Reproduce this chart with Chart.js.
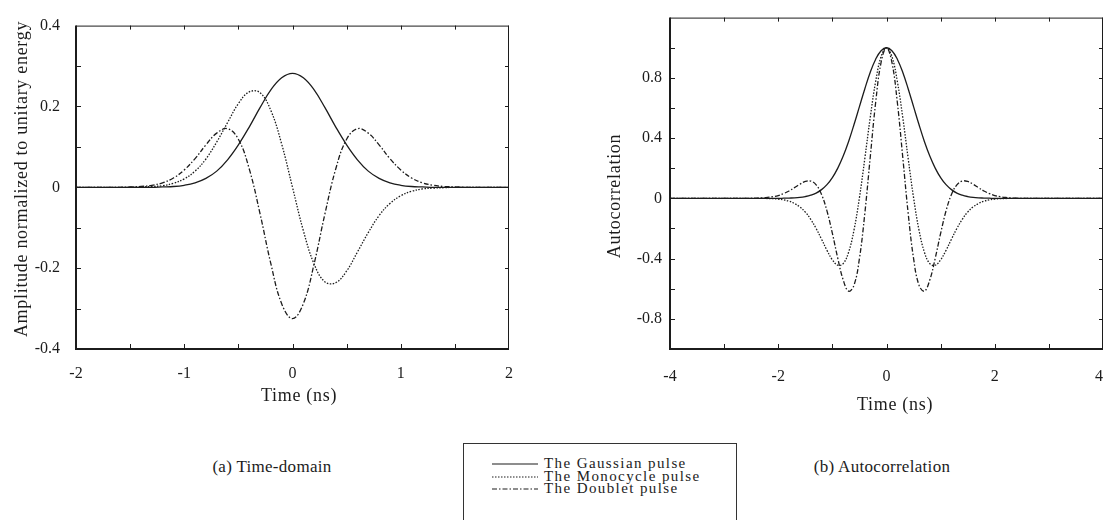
<!DOCTYPE html>
<html lang="en">
<head>
<meta charset="utf-8">
<title>Gaussian, monocycle and doublet pulses</title>
<script src="https://cdn.jsdelivr.net/npm/chart.js@4.4.1/dist/chart.umd.min.js"></script>
<style>
	html, body { margin: 0; padding: 0; background: #fff; overflow: hidden; }
	body { width: 1104px; height: 520px; position: relative; font-family: 'Liberation Serif', 'Times New Roman', serif; color: #1c1c1c; }
	#c1 { position: absolute; left: 0; top: 0; }
	#c2 { position: absolute; left: 545px; top: 0; }
	.cap { position: absolute; top: 466px; font-size: 17px; line-height: 1; white-space: nowrap; letter-spacing: 0.3px; transform: translate(-50%, -50%); }
	.legend { position: absolute; left: 463px; top: 443px; width: 272px; height: 100px; border: 1.5px solid #333; }
	.legend .row { position: absolute; left: 0; width: 100%; height: 14px; }
	.legend svg { position: absolute; left: 28px; top: 0; }
	.legend span { position: absolute; left: 80px; top: -1px; font-size: 15px; line-height: 15px; white-space: nowrap; letter-spacing: 1.4px; }
</style>
</head>
<body>
	<canvas id="c1" width="540" height="430"></canvas>
	<canvas id="c2" width="590" height="430"></canvas>
	<div class="cap" style="left: 272px;">(a) Time-domain</div>
	<div class="cap" style="left: 882px;">(b) Autocorrelation</div>
	<div class="legend" id="legend"></div>

<script>
// series names and line styles
var names = ['The Gaussian pulse', 'The Monocycle pulse', 'The Doublet pulse'];
var dashes = [[], [1.5, 1.5], [5, 2, 1.5, 2]];
var ink = '#1c1c1c';
var serif = "'Liberation Serif', 'Times New Roman', serif";

// (a) time-domain, t in ns
var tA = [-2.0, -1.9, -1.8, -1.7, -1.6, -1.5, -1.4, -1.3, -1.2, -1.1, -1.0, -0.9, -0.8, -0.7, -0.6, -0.5, -0.4, -0.3, -0.2, -0.1,
	0, 0.1, 0.2, 0.3, 0.4, 0.5, 0.6, 0.7, 0.8, 0.9, 1.0, 1.1, 1.2, 1.3, 1.4, 1.5, 1.6, 1.7, 1.8, 1.9, 2.0];
var gaussA = [0, 0, 0, 0, 0, 0, 0, 0, 0.001, 0.002, 0.005, 0.011, 0.022, 0.040, 0.068, 0.105, 0.149, 0.197, 0.241, 0.271,
	0.282, 0.271, 0.241, 0.197, 0.149, 0.105, 0.068, 0.040, 0.022, 0.011, 0.005, 0.002, 0.001, 0, 0, 0, 0, 0, 0, 0, 0];
var monoA = [0, 0, 0, 0, 0, 0, 0.001, 0.002, 0.004, 0.010, 0.021, 0.040, 0.070, 0.112, 0.160, 0.207, 0.236, 0.234, 0.190, 0.107,
	0, -0.107, -0.190, -0.234, -0.236, -0.207, -0.160, -0.112, -0.070, -0.040, -0.021, -0.010, -0.004, -0.002, -0.001, 0, 0, 0, 0, 0, 0];
var doubA = [0, 0, 0, 0, 0, 0.001, 0.002, 0.005, 0.011, 0.023, 0.043, 0.071, 0.105, 0.134, 0.145, 0.119, 0.046, -0.065, -0.189, -0.288,
	-0.325, -0.288, -0.189, -0.065, 0.046, 0.119, 0.145, 0.134, 0.105, 0.071, 0.043, 0.023, 0.011, 0.005, 0.002, 0.001, 0, 0, 0, 0, 0];
var xTicksA = [-2, -1, 0, 1, 2];
var xLabelsA = ['-2', '-1', '0', '1', '2'];
var yTicksA = [-0.4, -0.2, 0, 0.2, 0.4];
var yLabelsA = ['-0.4', '-0.2', '0', '0.2', '0.4'];
var xMarksA = [-1.5, -1, -0.5, 0, 0.5, 1, 1.5];
var yMarksA = [-0.3, -0.2, -0.1, 0, 0.1, 0.2, 0.3];

// (b) autocorrelation, lag in ns
var tB = [-4, -3, -2.5, -2.4, -2.3, -2.2, -2.1, -2.0, -1.9, -1.8, -1.7, -1.6, -1.5, -1.4, -1.3, -1.2, -1.1, -1.0, -0.9, -0.8, -0.7, -0.6, -0.5, -0.4, -0.3, -0.2, -0.1,
	0, 0.1, 0.2, 0.3, 0.4, 0.5, 0.6, 0.7, 0.8, 0.9, 1.0, 1.1, 1.2, 1.3, 1.4, 1.5, 1.6, 1.7, 1.8, 1.9, 2.0, 2.1, 2.2, 2.3, 2.4, 2.5, 3, 4];
var gaussB = [0, 0, 0, 0, 0, 0, 0, 0, 0.001, 0.002, 0.003, 0.006, 0.012, 0.021, 0.035, 0.058, 0.091, 0.138, 0.201, 0.281, 0.378, 0.490, 0.609, 0.728, 0.837, 0.924, 0.980,
	1, 0.980, 0.924, 0.837, 0.728, 0.609, 0.490, 0.378, 0.281, 0.201, 0.138, 0.091, 0.058, 0.035, 0.021, 0.012, 0.006, 0.003, 0.002, 0.001, 0, 0, 0, 0, 0, 0, 0, 0];
var monoB = [0, 0, 0, 0, 0, -0.001, -0.002, -0.005, -0.010, -0.019, -0.034, -0.057, -0.091, -0.139, -0.200, -0.271, -0.345, -0.408, -0.444, -0.433, -0.357, -0.210, 0.005, 0.266, 0.538, 0.777, 0.941,
	1, 0.941, 0.777, 0.538, 0.266, 0.005, -0.210, -0.357, -0.433, -0.444, -0.408, -0.345, -0.271, -0.200, -0.139, -0.091, -0.057, -0.034, -0.019, -0.010, -0.005, -0.002, -0.001, 0, 0, 0, 0, 0];
var doubB = [0, 0, 0, 0.001, 0.003, 0.006, 0.011, 0.019, 0.032, 0.049, 0.071, 0.094, 0.112, 0.115, 0.090, 0.026, -0.083, -0.232, -0.398, -0.542, -0.616, -0.576, -0.399, -0.098, 0.275, 0.638, 0.903,
	1, 0.903, 0.638, 0.275, -0.098, -0.399, -0.576, -0.616, -0.542, -0.398, -0.232, -0.083, 0.026, 0.090, 0.115, 0.112, 0.094, 0.071, 0.049, 0.032, 0.019, 0.011, 0.006, 0.003, 0.001, 0, 0, 0];
var xTicksB = [-4, -2, 0, 2, 4];
var xLabelsB = ['-4', '-2', '0', '2', '4'];
var yTicksB = [-0.8, -0.4, 0, 0.4, 0.8];
var yLabelsB = ['-0.8', '-0.4', '0', '0.4', '0.8'];
var xMarksB = [-3, -2, -1, 0, 1, 2, 3];
var yMarksB = [-0.8, -0.6, -0.4, -0.2, 0, 0.2, 0.4, 0.6, 0.8, 1.0];
</script>

<script>
Chart.defaults.font.family = serif;
Chart.defaults.color = ink;

// box round the plot with inward tick marks on all four sides
var frame = {
	id: 'frame',
	afterDatasetsDraw: function(chart, args, opts) {
		var ctx = chart.ctx, a = chart.chartArea;
		var x = chart.scales.x, y = chart.scales.y;
		ctx.save();
		ctx.strokeStyle = ink;
		ctx.lineWidth = 1;
		ctx.beginPath();
		ctx.moveTo(a.left, a.top + 0.5); ctx.lineTo(a.right, a.top + 0.5);
		ctx.moveTo(a.right - 0.5, a.top); ctx.lineTo(a.right - 0.5, a.bottom);
		opts.xMarks.forEach(function(v) {
			var p = Math.round(x.getPixelForValue(v)) + 0.5;
			ctx.moveTo(p, a.bottom); ctx.lineTo(p, a.bottom - 5);
			ctx.moveTo(p, a.top); ctx.lineTo(p, a.top + 4);
		});
		opts.yMarks.forEach(function(v) {
			var p = Math.round(y.getPixelForValue(v)) + 0.5;
			ctx.moveTo(a.left, p); ctx.lineTo(a.left + 5, p);
			ctx.moveTo(a.right, p); ctx.lineTo(a.right - 4, p);
		});
		ctx.stroke();
		ctx.lineWidth = 2;
		ctx.beginPath();
		ctx.moveTo(a.left, a.top); ctx.lineTo(a.left, a.bottom); ctx.lineTo(a.right, a.bottom);
		ctx.stroke();

		// axis titles, placed where the reference has them
		ctx.fillStyle = ink;
		ctx.font = '18px ' + serif;
		ctx.letterSpacing = '0.7px';
		ctx.textAlign = 'center';
		ctx.textBaseline = 'middle';
		ctx.fillText(opts.xTitle, opts.xTitleAt[0], opts.xTitleAt[1]);
		ctx.translate(opts.yTitleAt[0], opts.yTitleAt[1]);
		ctx.rotate(-Math.PI / 2);
		ctx.fillText(opts.yTitle, 0, 0);
		ctx.restore();
	}
};

function makechart(id, o)
{
	var datasets = o.series.map(function(s, i) {
		return {
			label: names[i],
			data: o.t.map(function(t, k) { return {x: t, y: s[k]}; }),
			borderColor: ink,
			borderWidth: 1.3,
			borderDash: dashes[i],
			pointRadius: 0,
			tension: 0.4,
			fill: false
		};
	});
	return new Chart(document.getElementById(id), {
		type: 'line',
		data: { datasets: datasets },
		plugins: [frame],
		options: {
			responsive: false,
			animation: false,
			events: [],
			layout: { padding: o.pad },
			plugins: {
				legend: { display: false },
				tooltip: { enabled: false },
				frame: { xMarks: o.xMarks, yMarks: o.yMarks,
					xTitle: 'Time (ns)', xTitleAt: o.xTitleAt, yTitle: o.yTitle, yTitleAt: o.yTitleAt }
			},
			scales: {
				x: {
					type: 'linear', min: o.xMin, max: o.xMax,
					afterBuildTicks: function(s) { s.ticks = o.xTicks.map(function(v) { return {value: v}; }); },
					afterFit: function(s) { s.height = o.xH; },
					grid: { display: false, drawTicks: false },
					border: { display: false },
					ticks: { padding: o.xPad, maxRotation: 0, autoSkip: false, color: ink, font: { family: serif, size: 16 },
						callback: function(v, i) { return o.xLabels[i] + (i == o.xLabels.length - 1 ? o.lastPad : ''); } }
				},
				y: {
					type: 'linear', min: o.yMin, max: o.yMax,
					afterBuildTicks: function(s) { s.ticks = o.yTicks.map(function(v) { return {value: v}; }); },
					afterFit: function(s) { s.width = o.yW; },
					grid: { display: false, drawTicks: false },
					border: { display: false },
					ticks: { padding: o.yPad, autoSkip: false, color: ink, font: { family: serif, size: 16 },
						callback: function(v, i) { return o.yLabels[i]; } }
				}
			}
		}
	});
}

makechart('c1', {
	t: tA, series: [gaussA, monoA, doubA],
	xMin: -2, xMax: 2, yMin: -0.4, yMax: 0.4,
	xTicks: xTicksA, xLabels: xLabelsA, yTicks: yTicksA, yLabels: yLabelsA,
	xMarks: xMarksA, yMarks: yMarksA,
	pad: { left: 0, top: 17, right: 31, bottom: 19 },
	xH: 62, yW: 76, xPad: 15, yPad: 16, lastPad: '',
	xTitleAt: [299, 396], yTitleAt: [22, 179],
	yTitle: 'Amplitude normalized to unitary energy'
});

makechart('c2', {
	t: tB, series: [gaussB, monoB, doubB],
	xMin: -4, xMax: 4, yMin: -1.0, yMax: 1.2,
	xTicks: xTicksB, xLabels: xLabelsB, yTicks: yTicksB, yLabels: yLabelsB,
	xMarks: xMarksB, yMarks: yMarksB,
	pad: { left: 0, top: 15, right: 32, bottom: 10 },
	xH: 71, yW: 125, xPad: 18, yPad: 8, lastPad: '\u2002',
	xTitleAt: [350, 405], yTitleAt: [70, 196],
	yTitle: 'Autocorrelation'
});

// legend box under the two plots
var rowsY = [20, 33, 45];
var legend = document.getElementById('legend');
names.forEach(function(n, i) {
	var row = document.createElement('div');
	row.className = 'row';
	row.style.top = (rowsY[i] - 7) + 'px';
	row.innerHTML = '<svg width="46" height="14"><line x1="0" y1="7" x2="46" y2="7" stroke="' + ink +
		'" stroke-width="1.2" stroke-dasharray="' + (dashes[i].length ? dashes[i].join(' ') : 'none') + '"/></svg>' +
		'<span>' + n + '</span>';
	legend.appendChild(row);
});
</script>
</body>
</html>
